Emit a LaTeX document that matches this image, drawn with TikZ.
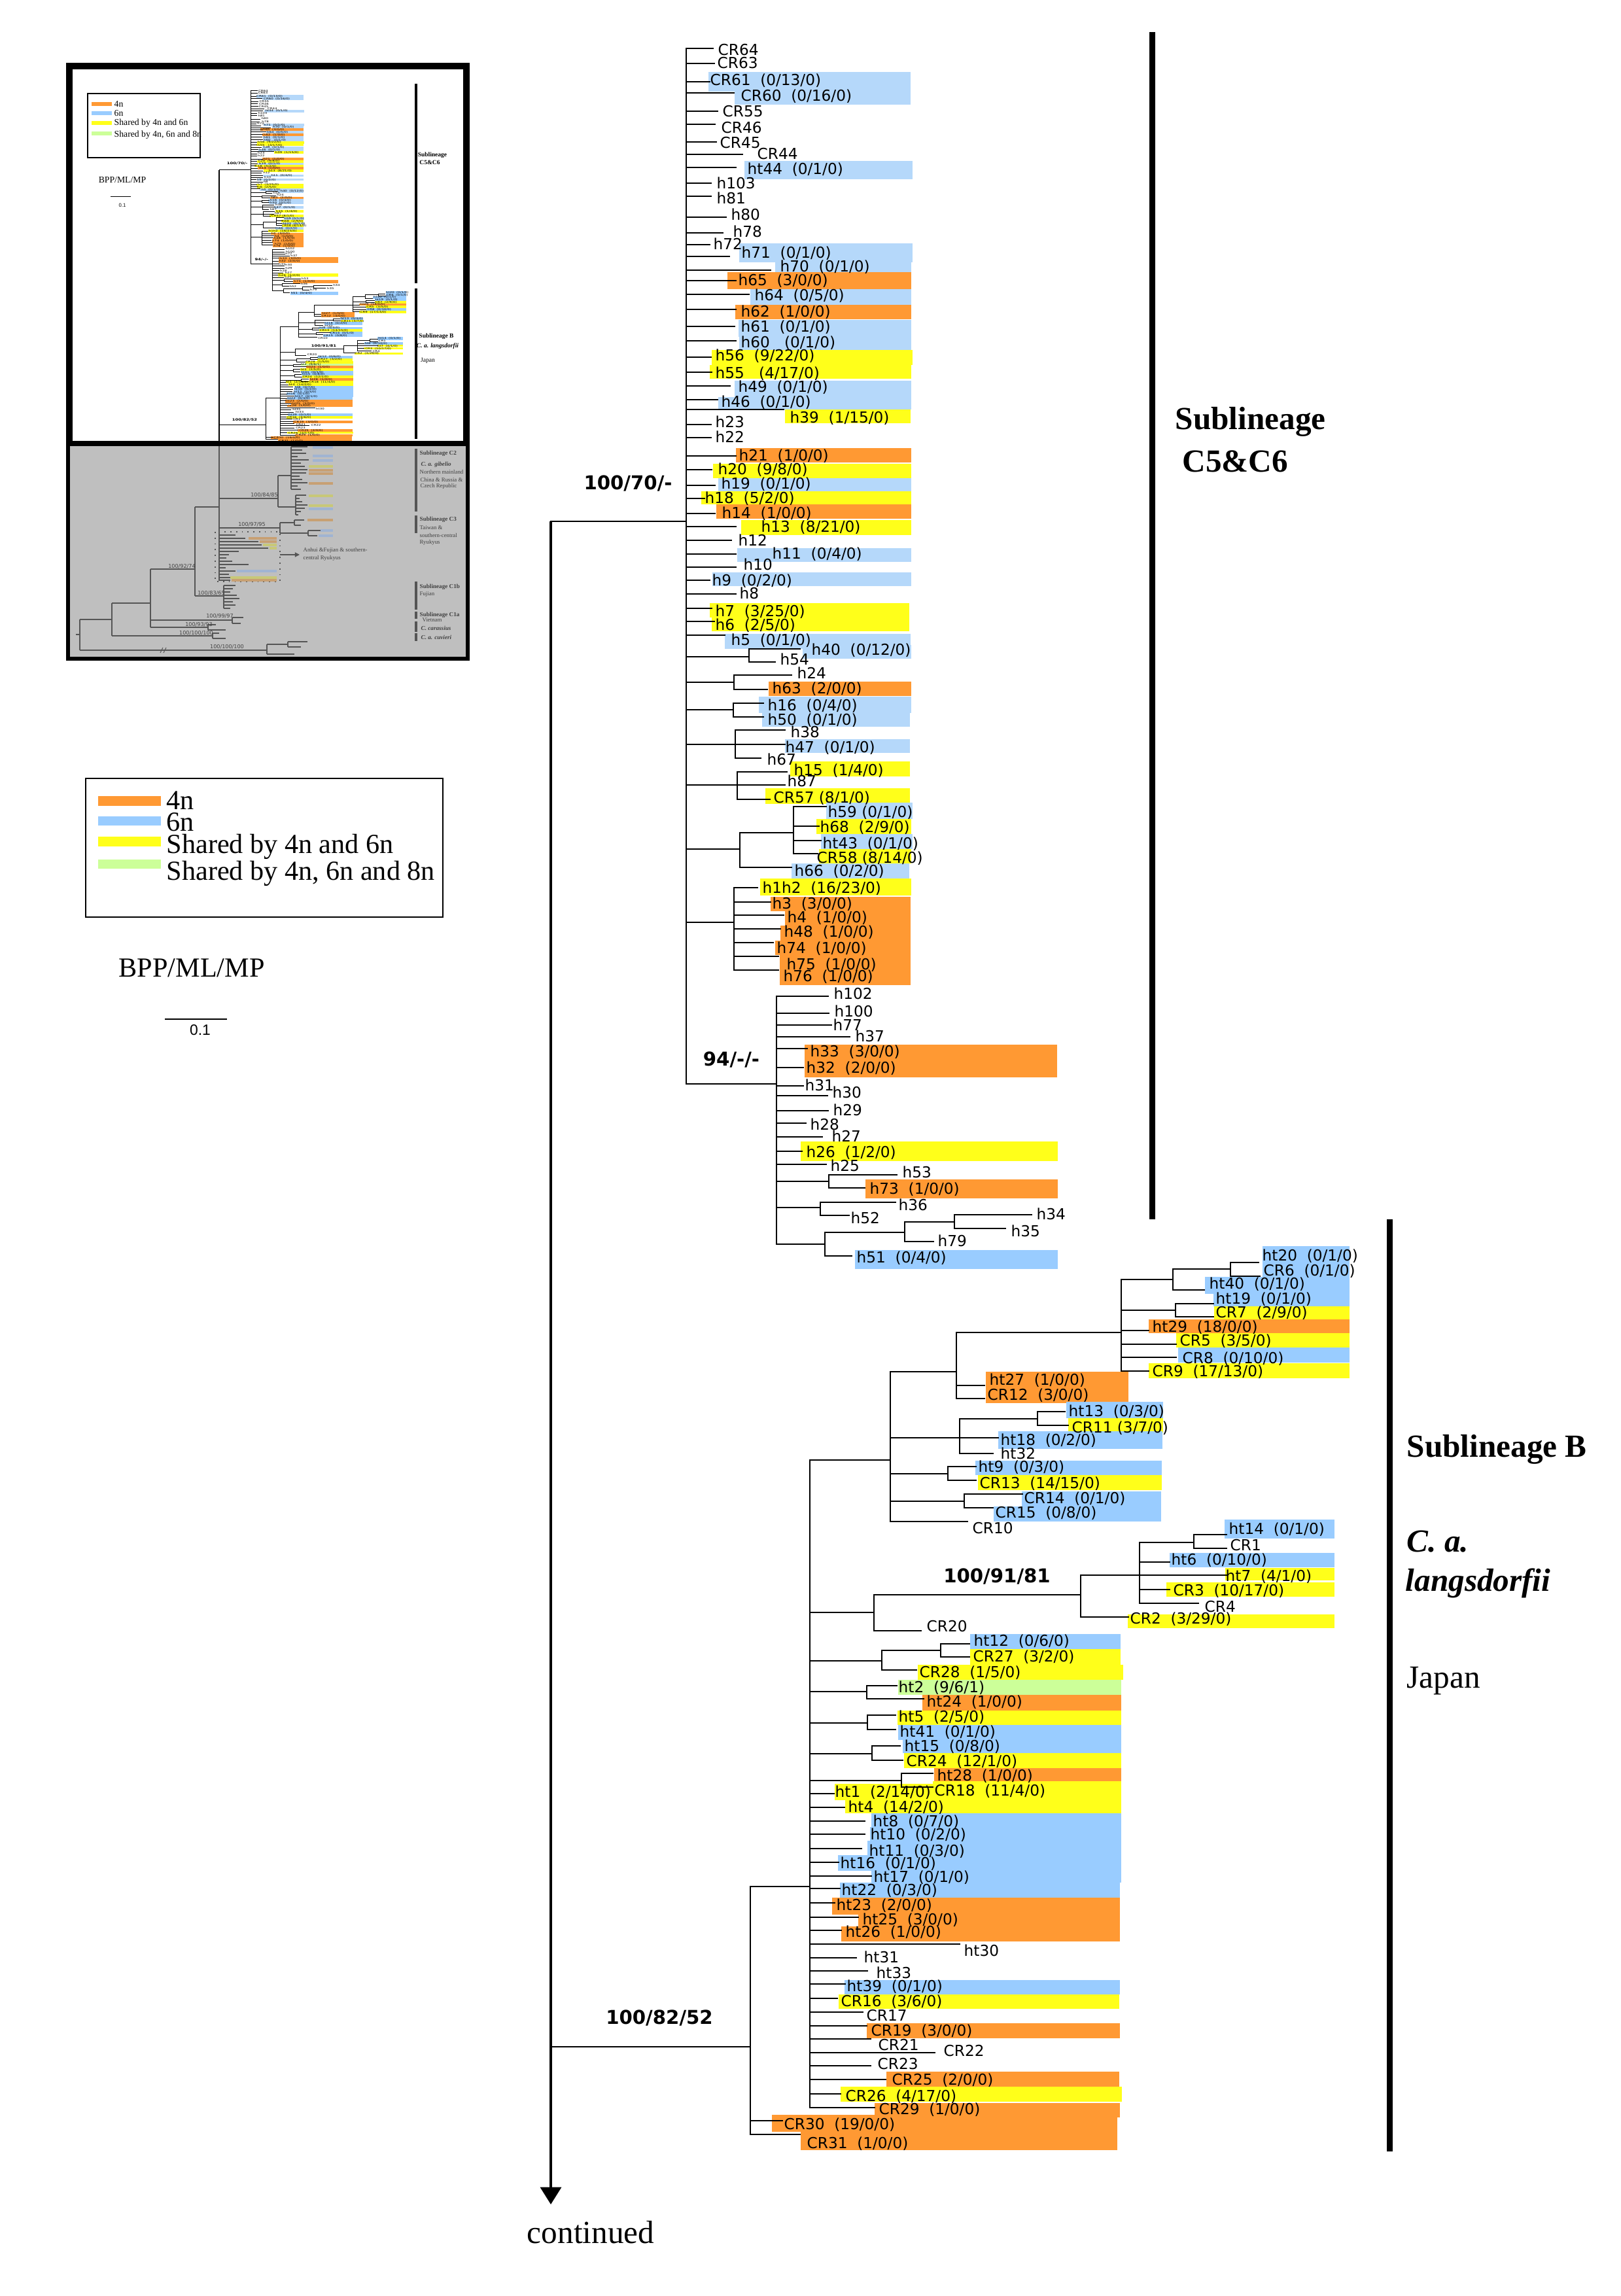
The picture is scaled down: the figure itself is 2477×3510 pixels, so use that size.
\documentclass[tikz,border=0pt]{standalone}
\usepackage{fontspec}
\setmainfont{Liberation Serif}
\newfontfamily\taxf{DejaVu Sans}
\newfontfamily\sansf{Liberation Sans}
\usetikzlibrary{arrows.meta}
\definecolor{orC}{RGB}{255,153,51}
\definecolor{blA}{RGB}{181,216,250}
\definecolor{blB}{RGB}{153,204,255}
\definecolor{yeC}{RGB}{255,255,26}
\definecolor{grC}{RGB}{204,255,153}
\definecolor{insg}{RGB}{191,191,191}
\definecolor{gline}{RGB}{85,85,85}
\definecolor{gtext}{RGB}{65,65,65}
\definecolor{gOr}{RGB}{200,160,115}
\definecolor{gBl}{RGB}{160,180,210}
\definecolor{gYe}{RGB}{200,200,120}
\def\tw{0.6pt}
\tikzset{
 br/.style={line width=\tw,line cap=rect},
 tl/.style={font=\taxf\fontsize{6.6}{7}\selectfont,anchor=west,inner sep=0pt,text height=5.4pt,text depth=1.3pt},
 sv/.style={font=\taxf\bfseries\fontsize{8.3}{9}\selectfont,inner sep=0pt},
 subl/.style={font=\bfseries\fontsize{14}{16}\selectfont,anchor=west,inner sep=0pt},
 legt/.style={font=\fontsize{12}{13}\selectfont,anchor=base west,inner sep=0pt},
 ilab/.style={font=\bfseries\fontsize{2.7}{3}\selectfont,inner sep=0pt},
 glab/.style={font=\fontsize{2.5}{3}\selectfont,anchor=west,inner sep=0pt,text=gtext},
 gsv/.style={font=\taxf\fontsize{2.3}{3}\selectfont,inner sep=0pt,text=gtext},
}
\newcommand\tBX[5]{\fill[#1] (#2,#3) rectangle (#4,#5);}
\newcommand\tHL[3]{\draw[br] (#1,#2) -- (#3,#2);}
\newcommand\tVL[3]{\draw[br] (#1,#2) -- (#1,#3);}
\newcommand\tTX[4]{\node[tl] (\pfx-#1) at (#2,#3) {#4};}
\newcommand\maintree[1]{\def\pfx{#1}%
% ---------- bars C5
\tBX{blA}{1083}{110}{1392}{140}\tBX{blA}{1123}{140}{1392}{160}\tBX{blA}{1138}{246}{1395}{274}
\tBX{blA}{1130}{372}{1395}{401}\tBX{blA}{1185}{401}{1393}{418}\tBX{orC}{1112}{416}{1393}{442}
\tBX{blA}{1147}{442}{1393}{466}\tBX{orC}{1124}{466}{1393}{488}\tBX{blA}{1129}{489}{1393}{515}
\tBX{blA}{1130}{515}{1393}{535}\tBX{yeC}{1088}{535}{1395}{558}\tBX{yeC}{1085}{558}{1393}{579}
\tBX{blA}{1123}{582}{1393}{607}\tBX{blA}{1098}{607}{1393}{626}\tBX{yeC}{1200}{626}{1392}{647}
\tBX{orC}{1125}{685}{1393}{707}\tBX{yeC}{1090}{709}{1393}{731}\tBX{blA}{1098}{731}{1393}{751}
\tBX{yeC}{1072}{751}{1393}{771}\tBX{orC}{1095}{771}{1393}{793}\tBX{yeC}{1133}{795}{1393}{818}
\tBX{blA}{1127}{838}{1393}{859}\tBX{blA}{1089}{875}{1393}{896}\tBX{yeC}{1085}{922}{1390}{944}
\tBX{yeC}{1088}{944}{1390}{965}\tBX{blA}{1108}{969}{1392}{992}\tBX{blA}{1227}{986}{1393}{1007}
\tBX{orC}{1175}{1042}{1393}{1064}\tBX{blA}{1160}{1065}{1393}{1090}\tBX{blA}{1165}{1090}{1391}{1111}
\tBX{blA}{1200}{1130}{1391}{1151}\tBX{yeC}{1208}{1164}{1391}{1187}\tBX{yeC}{1170}{1205}{1391}{1229}
\tBX{blA}{1263}{1227}{1395}{1252}\tBX{yeC}{1248}{1252}{1393}{1275}\tBX{blA}{1255}{1275}{1395}{1298}
\tBX{yeC}{1252}{1298}{1393}{1320}\tBX{blA}{1210}{1320}{1390}{1343}\tBX{yeC}{1162}{1343}{1393}{1369}
\tBX{orC}{1178}{1371}{1392}{1393}\tBX{orC}{1200}{1393}{1392}{1415}\tBX{orC}{1193}{1415}{1392}{1438}
\tBX{orC}{1185}{1438}{1392}{1460}\tBX{orC}{1192}{1460}{1392}{1483}\tBX{orC}{1192}{1483}{1392}{1506}
% ---------- bars 94
\tBX{orC}{1230}{1597}{1616}{1621}\tBX{orC}{1230}{1621}{1616}{1647}\tBX{yeC}{1224}{1745}{1617}{1775}
\tBX{orC}{1323}{1803}{1617}{1832}\tBX{blB}{1307}{1911}{1617}{1940}
% ---------- bars B
\tBX{blB}{1930}{1905}{2063}{1930}\tBX{blB}{1930}{1930}{2063}{1952}\tBX{blB}{1842}{1952}{2063}{1978}
\tBX{blB}{1855}{1978}{2063}{1997}\tBX{yeC}{1856}{1997}{2063}{2017}\tBX{orC}{1756}{2017}{2063}{2038}
\tBX{yeC}{1798}{2038}{2063}{2060}\tBX{blB}{1801}{2060}{2063}{2083}\tBX{yeC}{1756}{2084}{2063}{2107}
\tBX{orC}{1507}{2097}{1725}{2145}\tBX{blB}{1630}{2143}{1778}{2168}\tBX{yeC}{1633}{2168}{1778}{2190}
\tBX{blB}{1526}{2188}{1777}{2215}\tBX{blB}{1491}{2233}{1776}{2255}\tBX{yeC}{1495}{2255}{1776}{2278}
\tBX{blB}{1562}{2280}{1775}{2303}\tBX{blB}{1519}{2303}{1775}{2326}
\tBX{blB}{1872}{2323}{2040}{2352}\tBX{blB}{1788}{2374}{2040}{2396}\tBX{yeC}{1873}{2397}{2040}{2416}
\tBX{yeC}{1783}{2419}{2040}{2441}\tBX{yeC}{1724}{2468}{2040}{2489}
\tBX{blB}{1483}{2498}{1713}{2521}\tBX{yeC}{1483}{2521}{1713}{2545}\tBX{yeC}{1403}{2545}{1717}{2568}
\tBX{grC}{1373}{2568}{1714}{2591}\tBX{orC}{1410}{2591}{1714}{2615}\tBX{yeC}{1372}{2615}{1714}{2637}
\tBX{blB}{1373}{2637}{1714}{2660}\tBX{blB}{1380}{2660}{1714}{2680}\tBX{yeC}{1382}{2680}{1714}{2703}
\tBX{orC}{1428}{2703}{1714}{2723}\tBX{yeC}{1426}{2723}{1714}{2752}\tBX{yeC}{1276}{2727}{1714}{2752}
\tBX{yeC}{1292}{2752}{1714}{2772}\tBX{blB}{1332}{2772}{1714}{2793}\tBX{blB}{1330}{2793}{1714}{2814}
\tBX{blB}{1326}{2814}{1714}{2836}\tBX{blB}{1281}{2836}{1714}{2860}\tBX{blB}{1332}{2860}{1714}{2878}
\tBX{blB}{1284}{2878}{1712}{2901}\tBX{orC}{1272}{2901}{1712}{2927}\tBX{orC}{1312}{2927}{1712}{2945}
\tBX{orC}{1286}{2945}{1712}{2968}\tBX{blB}{1291}{3027}{1712}{3049}\tBX{yeC}{1282}{3049}{1711}{3071}
\tBX{orC}{1325}{3093}{1712}{3116}\tBX{orC}{1355}{3167}{1711}{3190}\tBX{yeC}{1285}{3190}{1715}{3213}
\tBX{orC}{1337}{3215}{1712}{3237}\tBX{orC}{1180}{3233}{1708}{3259}\tBX{orC}{1224}{3259}{1708}{3287}
% ---------- lines
\tHL{842}{797}{1049}\tHL{842}{3129}{1147}
\tVL{1049}{74}{1657}
\foreach \yy/\xx in {74/1090,97/1092,125/1085,142/1122,170/1097,190/1093,217/1095,236/1135,256/1125,280/1087,300/1087,332/1110,356/1105,374/1085,392/1115,413/1178,429/1125,450/1145,473/1125,499/1123,521/1125,546/1087,569/1088,590/1116,611/1097,626/1198,649/1087,669/1087,697/1125,718/1088,742/1093,762/1077,785/1093,805/1125,826/1118,847/1125,867/1125,887/1085,908/1125,930/1088,950/1092,971/1108}{\tHL{1049}{\yy}{\xx}}
\tHL{1049}{1004}{1145}\tVL{1145}{992}{1012}\tHL{1145}{992}{1223}\tHL{1145}{1012}{1185}
\tHL{1049}{1043}{1122}\tVL{1122}{1032}{1054}\tHL{1122}{1032}{1210}\tHL{1122}{1054}{1173}
\tHL{1049}{1085}{1121}\tVL{1121}{1075}{1096}\tHL{1121}{1075}{1167}\tHL{1121}{1096}{1167}
\tHL{1049}{1138}{1200}\tVL{1124}{1116}{1159}\tHL{1124}{1116}{1200}\tHL{1124}{1159}{1163}
\tHL{1049}{1200}{1200}\tVL{1127}{1180}{1222}\tHL{1127}{1180}{1203}\tHL{1127}{1222}{1177}
\tHL{1049}{1298}{1131}\tVL{1131}{1273}{1326}\tHL{1131}{1273}{1213}\tVL{1213}{1233}{1305}
\tHL{1213}{1233}{1263}\tHL{1213}{1263}{1252}\tHL{1213}{1285}{1255}\tHL{1213}{1305}{1250}\tHL{1131}{1326}{1210}
\tHL{1049}{1410}{1122}\tVL{1122}{1357}{1483}
\foreach \yy/\xx in {1357/1158,1379/1178,1399/1198,1420/1193,1441/1182,1462/1190,1483/1190}{\tHL{1122}{\yy}{\xx}}
\tHL{1049}{1657}{1187}\tVL{1187}{1523}{1902}
\foreach \yy/\xx in {1523/1266,1549/1267,1567/1271,1585/1299,1603/1234,1632/1228,1660/1228,1675/1265,1698/1266,1717/1232,1738/1257,1760/1226,1780/1263}{\tHL{1187}{\yy}{\xx}}
\tHL{1187}{1806}{1267}\tVL{1267}{1796}{1816}\tHL{1267}{1796}{1371}\tHL{1267}{1816}{1322}
\tHL{1187}{1846}{1254}\tVL{1254}{1838}{1858}\tHL{1254}{1838}{1369}\tHL{1254}{1858}{1298}
\tHL{1187}{1902}{1261}\tVL{1261}{1884}{1920}\tHL{1261}{1884}{1383}\tVL{1383}{1868}{1898}
\tHL{1383}{1868}{1459}\tVL{1459}{1857}{1878}\tHL{1459}{1857}{1577}\tHL{1459}{1878}{1537}
\tHL{1383}{1898}{1427}\tHL{1261}{1920}{1302}
% B
\tVL{1147}{2884}{3263}\tHL{1147}{2884}{1238}\tHL{1147}{3242}{1196}\tHL{1147}{3263}{1223}
\tVL{1238}{2232}{3222}
\tHL{1238}{2232}{1361}\tVL{1361}{2097}{2326}
\tHL{1361}{2097}{1462}\tVL{1462}{2037}{2138}
\tHL{1462}{2037}{1714}\tVL{1714}{1956}{2096}
\tHL{1714}{1956}{1793}\tVL{1793}{1940}{1972}
\tHL{1793}{1940}{1881}\tVL{1881}{1930}{1951}\tHL{1881}{1930}{1924}\tHL{1881}{1951}{1926}
\tHL{1793}{1972}{1841}
\tHL{1714}{2003}{1797}\tVL{1797}{1993}{2013}\tHL{1797}{1993}{1855}\tHL{1797}{2013}{1855}
\tHL{1714}{2034}{1756}\tHL{1714}{2055}{1798}\tHL{1714}{2075}{1798}\tHL{1714}{2096}{1756}
\tHL{1462}{2118}{1505}\tHL{1462}{2138}{1505}
\tHL{1361}{2198}{1467}\tVL{1467}{2169}{2222}
\tHL{1467}{2169}{1586}\tVL{1586}{2158}{2179}\tHL{1586}{2158}{1628}\tHL{1586}{2179}{1633}
\tHL{1467}{2198}{1526}\tHL{1467}{2222}{1518}
\tHL{1361}{2253}{1449}\tVL{1449}{2242}{2263}\tHL{1449}{2242}{1492}\tHL{1449}{2263}{1492}
\tHL{1361}{2295}{1474}\tVL{1474}{2284}{2305}\tHL{1474}{2284}{1563}\tHL{1474}{2305}{1518}
\tHL{1361}{2326}{1479}
\tHL{1238}{2465}{1336}\tVL{1336}{2438}{2493}
\tHL{1336}{2438}{1652}\tVL{1652}{2408}{2472}
\tHL{1652}{2408}{1742}\tVL{1742}{2358}{2451}
\tHL{1742}{2358}{1825}\tVL{1825}{2346}{2367}\tHL{1825}{2346}{1875}\tHL{1825}{2367}{1875}
\tHL{1742}{2388}{1788}\tHL{1742}{2408}{1875}\tHL{1742}{2430}{1788}\tHL{1742}{2451}{1832}
\tHL{1652}{2472}{1725}\tHL{1336}{2493}{1408}
\tHL{1238}{2539}{1348}\tVL{1348}{2523}{2553}\tHL{1348}{2523}{1438}\tVL{1438}{2513}{2533}
\tHL{1438}{2513}{1482}\tHL{1438}{2533}{1482}\tHL{1348}{2553}{1401}
\tHL{1238}{2586}{1325}\tVL{1325}{2577}{2597}\tHL{1325}{2577}{1371}\tHL{1325}{2597}{1412}
\tHL{1238}{2634}{1326}\tVL{1326}{2622}{2644}\tHL{1326}{2622}{1369}\tHL{1326}{2644}{1369}
\tHL{1238}{2681}{1333}\tVL{1333}{2669}{2691}\tHL{1333}{2669}{1376}\tHL{1333}{2691}{1380}
\tHL{1238}{2722}{1378}\tVL{1378}{2711}{2732}\tHL{1378}{2711}{1426}\tHL{1378}{2732}{1426}
\foreach \yy/\xx in {2742/1275,2763/1291,2784/1322,2804/1322,2826/1317,2847/1282,2868/1332,2887/1284,2909/1276,2931/1312,2951/1286,2972/1467,2993/1309,3013/1326,3033/1292,3055/1280,3076/1319,3097/1325,3117/1331,3138/1429,3158/1331,3179/1354,3201/1285,3222/1337}{\tHL{1238}{\yy}{\xx}}
% ---------- labels C5
\tTX{CR64}{1097}{77}{CR64}\tTX{CR63}{1096}{97}{CR63}\tTX{CR61}{1085}{123}{CR61~~(0/13/0)}
\tTX{CR60}{1132}{147}{CR60~~(0/16/0)}\tTX{CR55}{1104}{171}{CR55}\tTX{CR46}{1102}{196}{CR46}
\tTX{CR45}{1100}{219}{CR45}\tTX{CR44}{1157}{236}{CR44}\tTX{ht44}{1142}{259}{ht44~~(0/1/0)}
\tTX{h103}{1095}{281}{h103}\tTX{h81}{1095}{304}{h81}\tTX{h80}{1117}{329}{h80}
\tTX{h78}{1120}{355}{h78}\tTX{h72}{1090}{374}{h72}\tTX{h71}{1133}{387}{h71~~(0/1/0)}
\tTX{h70}{1192}{408}{h70~~(0/1/0)}\tTX{h65}{1128}{429}{h65~~(3/0/0)}\tTX{h64}{1153}{452}{h64~~(0/5/0)}
\tTX{h62}{1132}{477}{h62~~(1/0/0)}\tTX{h61}{1132}{500}{h61~~(0/1/0)}\tTX{h60}{1132}{524}{h60~~~(0/1/0)}
\tTX{h56}{1093}{544}{h56~~(9/22/0)}\tTX{h55}{1093}{571}{h55~~~(4/17/0)}\tTX{h49}{1128}{592}{h49~~(0/1/0)}
\tTX{h46}{1102}{615}{h46~~(0/1/0)}\tTX{h39}{1207}{639}{h39~~(1/15/0)}\tTX{h23}{1093}{646}{h23}
\tTX{h22}{1093}{669}{h22}\tTX{h21}{1129}{697}{h21~~(1/0/0)}\tTX{h20}{1097}{718}{h20~~(9/8/0)}
\tTX{h19}{1102}{740}{h19~~(0/1/0)}\tTX{h18}{1077}{762}{h18~~(5/2/0)}\tTX{h14}{1103}{785}{h14~~(1/0/0)}
\tTX{h13}{1163}{806}{h13~~(8/21/0)}\tTX{h12}{1128}{827}{h12}\tTX{h11}{1180}{847}{h11~~(0/4/0)}
\tTX{h10}{1136}{864}{h10}\tTX{h9}{1088}{888}{h9~~(0/2/0)}\tTX{h8}{1130}{908}{h8}
\tTX{h7}{1093}{935}{h7~~(3/25/0)}\tTX{h6}{1093}{956}{h6~~(2/5/0)}\tTX{h5}{1117}{979}{h5~~(0/1/0)}
\tTX{h40}{1240}{994}{h40~~(0/12/0)}\tTX{h54}{1192}{1009}{h54}\tTX{h24}{1218}{1030}{h24}
\tTX{h63}{1180}{1053}{h63~~(2/0/0)}\tTX{h16}{1173}{1079}{h16~~(0/4/0)}\tTX{h50}{1173}{1101}{h50~~(0/1/0)}
\tTX{h38}{1208}{1120}{h38}\tTX{h47}{1200}{1143}{h47~~(0/1/0)}\tTX{h67}{1172}{1162}{h67}
\tTX{h15}{1213}{1178}{h15~~(1/4/0)}\tTX{h87}{1203}{1195}{h87}\tTX{CR57}{1182}{1220}{CR57 (8/1/0)}
\tTX{h59}{1265}{1242}{h59 (0/1/0)}\tTX{h68}{1253}{1265}{h68~~(2/9/0)}\tTX{ht43}{1257}{1290}{ht43~~(0/1/0)}
\tTX{CR58}{1248}{1312}{CR58 (8/14/0)}\tTX{h66}{1214}{1332}{h66~~(0/2/0)}\tTX{h1h2}{1165}{1358}{h1h2~~(16/23/0)}
\tTX{h3}{1180}{1382}{h3~~(3/0/0)}\tTX{h4}{1203}{1403}{h4~~(1/0/0)}\tTX{h48}{1198}{1425}{h48~~(1/0/0)}
\tTX{h74}{1187}{1450}{h74~~(1/0/0)}\tTX{h75}{1202}{1475}{h75~~(1/0/0)}\tTX{h76}{1197}{1493}{h76~~(1/0/0)}
% 94
\tTX{h102}{1274}{1520}{h102}\tTX{h100}{1275}{1547}{h100}\tTX{h77}{1273}{1568}{h77}
\tTX{h37}{1307}{1585}{h37}\tTX{h33}{1238}{1608}{h33~~(3/0/0)}\tTX{h32}{1232}{1633}{h32~~(2/0/0)}
\tTX{h31}{1230}{1660}{h31}\tTX{h30}{1272}{1671}{h30}\tTX{h29}{1273}{1698}{h29}
\tTX{h28}{1238}{1720}{h28}\tTX{h27}{1271}{1738}{h27}\tTX{h26}{1232}{1762}{h26~~(1/2/0)}
\tTX{h25}{1269}{1783}{h25}\tTX{h53}{1379}{1793}{h53}\tTX{h73}{1329}{1818}{h73~~(1/0/0)}
\tTX{h36}{1373}{1843}{h36}\tTX{h52}{1300}{1863}{h52}\tTX{h34}{1584}{1857}{h34}
\tTX{h35}{1545}{1883}{h35}\tTX{h79}{1433}{1898}{h79}\tTX{h51}{1309}{1923}{h51~~(0/4/0)}
% B
\tTX{ht20}{1929}{1920}{ht20~~(0/1/0)}\tTX{CR6}{1931}{1943}{CR6~~(0/1/0)}\tTX{ht40}{1848}{1963}{ht40~~(0/1/0)}
\tTX{ht19}{1858}{1986}{ht19~~(0/1/0)}\tTX{CR7}{1858}{2007}{CR7~~(2/9/0)}\tTX{ht29}{1761}{2029}{ht29~~(18/0/0)}
\tTX{CR5}{1803}{2050}{CR5~~(3/5/0)}\tTX{CR8}{1807}{2077}{CR8~~(0/10/0)}\tTX{CR9}{1761}{2097}{CR9~~(17/13/0)}
\tTX{ht27}{1512}{2110}{ht27~~(1/0/0)}\tTX{CR12}{1509}{2133}{CR12~~(3/0/0)}\tTX{ht13}{1633}{2158}{ht13~~(0/3/0)}
\tTX{CR11}{1638}{2183}{CR11 (3/7/0)}\tTX{ht18}{1529}{2202}{ht18~~(0/2/0)}\tTX{ht32}{1529}{2223}{ht32}
\tTX{ht9}{1495}{2243}{ht9~~(0/3/0)}\tTX{CR13}{1497}{2268}{CR13~~(14/15/0)}\tTX{CR14}{1565}{2291}{CR14~~(0/1/0)}
\tTX{CR15}{1521}{2313}{CR15~~(0/8/0)}\tTX{CR10}{1486}{2337}{CR10}\tTX{ht14}{1878}{2338}{ht14~~(0/1/0)}
\tTX{CR1}{1880}{2363}{CR1}\tTX{ht6}{1790}{2385}{ht6~~(0/10/0)}\tTX{ht7}{1873}{2410}{ht7~~(4/1/0)}
\tTX{CR3}{1793}{2432}{CR3~~(10/17/0)}\tTX{CR4}{1841}{2457}{CR4}\tTX{CR2}{1727}{2475}{CR2~~(3/29/0)}
\tTX{CR20}{1416}{2487}{CR20}\tTX{ht12}{1488}{2509}{ht12~~(0/6/0)}\tTX{CR27}{1487}{2533}{CR27~~(3/2/0)}
\tTX{CR28}{1405}{2557}{CR28~~(1/5/0)}\tTX{ht2}{1373}{2580}{ht2~~(9/6/1)}\tTX{ht24}{1416}{2602}{ht24~~(1/0/0)}
\tTX{ht5}{1373}{2625}{ht5~~(2/5/0)}\tTX{ht41}{1375}{2648}{ht41~~(0/1/0)}\tTX{ht15}{1382}{2670}{ht15~~(0/8/0)}
\tTX{CR24}{1385}{2693}{CR24~~(12/1/0)}\tTX{ht28}{1432}{2715}{ht28~~(1/0/0)}\tTX{CR18}{1428}{2738}{CR18~~(11/4/0)}
\tTX{ht1}{1276}{2740}{ht1~~(2/14/0)}\tTX{ht4}{1296}{2763}{ht4~~(14/2/0)}\tTX{ht8}{1334}{2785}{ht8~~(0/7/0)}
\tTX{ht10}{1330}{2805}{ht10~~(0/2/0)}\tTX{ht11}{1328}{2830}{ht11~~(0/3/0)}\tTX{ht16}{1284}{2849}{ht16~~(0/1/0)}
\tTX{ht17}{1335}{2870}{ht17~~(0/1/0)}\tTX{ht22}{1286}{2890}{ht22~~(0/3/0)}\tTX{ht23}{1278}{2913}{ht23~~(2/0/0)}
\tTX{ht25}{1318}{2935}{ht25~~(3/0/0)}\tTX{ht26}{1292}{2954}{ht26~~(1/0/0)}\tTX{ht30}{1473}{2983}{ht30}
\tTX{ht31}{1320}{2993}{ht31}\tTX{ht33}{1339}{3017}{ht33}\tTX{ht39}{1294}{3037}{ht39~~(0/1/0)}
\tTX{CR16}{1285}{3060}{CR16~~(3/6/0)}\tTX{CR17}{1324}{3082}{CR17}\tTX{CR19}{1331}{3105}{CR19~~(3/0/0)}
\tTX{CR21}{1342}{3127}{CR21}\tTX{CR22}{1442}{3136}{CR22}\tTX{CR23}{1341}{3156}{CR23}
\tTX{CR25}{1363}{3180}{CR25~~(2/0/0)}\tTX{CR26}{1292}{3205}{CR26~~(4/17/0)}\tTX{CR29}{1343}{3225}{CR29~~(1/0/0)}
\tTX{CR30}{1198}{3248}{CR30~~(19/0/0)}\tTX{CR31}{1233}{3277}{CR31~~(1/0/0)}
% support values
\node[sv] (\pfx-s70) at (960,739) {100/70/-};
\node[sv] (\pfx-s94) at (1118,1620) {94/-/-};
\node[sv] (\pfx-s91) at (1524,2410) {100/91/81};
\node[sv] (\pfx-s82) at (1008,3085) {100/82/52};
}
\begin{document}
\begin{tikzpicture}[x=0.01cm,y=-0.01cm]
\fill[white] (0,0) rectangle (2477,3510);
\useasboundingbox (0,0) rectangle (2477,3510);
% ================= main tree
\maintree{m}
\coordinate (rootTop) at (842,797);
\coordinate (rootEnd) at (842,3370);
\draw[line width=1.3pt,-{Triangle[width=9pt,length=7.5pt]}] (rootTop) -- (rootEnd);
\node[font=\fontsize{14}{16}\selectfont,inner sep=0pt] (cont) at (903,3413) {continued};
% sublineage bars and labels
\fill (1757,49) rectangle (1766,1864);
\fill (2120,1864) rectangle (2129,3289);
\node[subl] (subA1) at (1796,645) {Sublineage};
\node[subl] (subA2) at (1807,705) {C5\&C6};
\node[subl] (subB1) at (2150,2216) {Sublineage B};
\node[subl,font=\bfseries\itshape\fontsize{14}{16}\selectfont] (subB2) at (2150,2357) {C. a.};
\node[subl,font=\bfseries\itshape\fontsize{14}{16}\selectfont] (subB3) at (2148,2420) {langsdorfii};
\node[subl,font=\fontsize{14}{16}\selectfont] (subB4) at (2150,2570) {Japan};
% legend
\draw[line width=0.6pt] (131,1190) rectangle (677,1402);
\fill[orC] (150,1217) rectangle (246,1232);
\fill[blB] (150,1248) rectangle (246,1262);
\fill[yeC] (150,1279) rectangle (246,1294);
\fill[grC] (150,1314) rectangle (246,1328);
\node[legt] (lg1) at (254,1237) {4n};
\node[legt] (lg2) at (254,1270) {6n};
\node[legt] (lg3) at (254,1304) {Shared by 4n and 6n};
\node[legt] (lg4) at (254,1345) {Shared by 4n, 6n and 8n};
\node[legt] (bpp) at (181,1493) {BPP/ML/MP};
\draw[line width=0.4pt] (252,1558) -- (347,1558);
\node[font=\sansf\fontsize{6.5}{7}\selectfont,inner sep=0pt] (sc) at (306,1575) {0.1};
% ================= inset
\fill[insg] (106,678) rectangle (713,1005);
\begin{scope}
\def\tw{0.22pt}
\begin{scope}[shift={(137.5,126.5)},xscale=0.2346,yscale=0.1671,transform shape]
\maintree{i}
\end{scope}
\end{scope}
\draw[line width=0.3pt] (335,260) -- (335,678);
% inset legend etc.
\draw[line width=0.3pt] (134,143) rectangle (306,241);
\fill[orC] (140,156) rectangle (171,162);
\fill[blB] (140,170) rectangle (171,176);
\fill[yeC] (140,185) rectangle (171,191);
\fill[grC] (140,201) rectangle (171,207);
\node[font=\fontsize{3.9}{4}\selectfont,anchor=west,inner sep=0pt] (il1) at (174,159) {4n};
\node[font=\fontsize{3.9}{4}\selectfont,anchor=west,inner sep=0pt] (il2) at (174,173) {6n};
\node[font=\fontsize{3.9}{4}\selectfont,anchor=west,inner sep=0pt] (il3) at (174,188) {Shared by 4n and 6n};
\node[font=\fontsize{3.9}{4}\selectfont,anchor=west,inner sep=0pt] (il4) at (174,206) {Shared by 4n, 6n and 8n};
\node[font=\fontsize{3.9}{4}\selectfont,inner sep=0pt] (ibpp) at (187,275) {BPP/ML/MP};
\draw[line width=0.2pt] (169,300) -- (200,300);
\node[font=\sansf\fontsize{2.2}{3}\selectfont,inner sep=0pt] (isc) at (187,314) {0.1};
\fill (634,128) rectangle (638,433);
\fill (634,441) rectangle (638,671);
\node[ilab] (is1) at (661,237) {Sublineage};
\node[ilab] (is2) at (657,248) {C5\&C6};
\node[ilab] (is3) at (667,514) {Sublineage B};
\node[ilab,font=\bfseries\itshape\fontsize{2.7}{3}\selectfont] (is4) at (669,529) {C. a. langsdorfii};
\node[ilab,font=\fontsize{2.7}{3}\selectfont] (is5) at (654,551) {Japan};
% inset gray part
\begin{scope}[draw=gline,line width=0.3pt]
\draw (335,678) -- (335,888);
\draw (298,775) -- (335,775) (298,775) -- (298,911) (230,870) -- (298,870);
% C2
\draw (335,762) -- (425,762) (425,727) -- (425,775) (425,727) -- (445,727) (445,683) -- (445,748);
\foreach \yy/\xx in {683/470,688/462,693/468,698/455,703/472,708/460,713/466,718/470,723/468,728/458,733/462,738/470,743/455,748/460}{\draw (445,\yy) -- (\xx,\yy);}
\draw (425,775) -- (452,775) (452,757) -- (452,787);
\foreach \yy/\xx in {757/468,762/458,767/462,772/470,777/466,782/460,787/456}{\draw (452,\yy) -- (\xx,\yy);}
% C3
\draw (335,807) -- (428,807) (428,799) -- (428,815) (428,799) -- (450,799) (450,795) -- (450,803);
\draw (450,795) -- (465,795) (450,803) -- (460,803) (428,815) -- (471,815) (471,811) -- (471,819) (471,811) -- (490,811) (471,819) -- (485,819);
% Anhui
\foreach \yy/\xx in {818/360,823/375,828/395,833/400,838/410,843/365,848/350,853/346,858/355,863/380,868/345,873/360,878/350,883/370,887/352}{\draw (335,\yy) -- (\xx,\yy);}
% C1b and deeper
\draw (298,911) -- (342,911) (342,895) -- (342,930);
\foreach \yy/\xx in {895/360,900/356,905/352,910/362,915/366,920/356,925/360,930/352}{\draw (342,\yy) -- (\xx,\yy);}
\draw (230,870) -- (230,959) (230,948) -- (355,948) (355,944) -- (355,953) (355,944) -- (372,944) (355,953) -- (368,953);
\draw (230,959) -- (318,959) (318,955) -- (318,963) (318,955) -- (330,955) (318,963) -- (345,963);
\draw (171,922) -- (230,922) (171,922) -- (171,972) (171,972) -- (325,972) (325,968) -- (325,976) (325,968) -- (335,968) (325,976) -- (345,976);
\draw (122,947) -- (171,947) (122,947) -- (122,994) (116,970) -- (122,970) (122,994) -- (408,994);
\draw (245,998) -- (249,990) (250,998) -- (254,990);
\draw (408,985) -- (408,1000) (408,985) -- (440,985) (440,981) -- (440,989) (440,981) -- (470,981) (440,989) -- (460,989) (408,1000) -- (450,1000);
\draw[dotted,line width=0.5pt] (329,813) rectangle (428,889);
\draw[-{Triangle[width=2pt,length=2pt]}] (428,848) -- (458,848);
\end{scope}
\fill[gBl] (478,682) rectangle (509,686);\fill[gBl] (478,695) rectangle (509,699);\fill[gBl] (478,702) rectangle (509,706);
\fill[gYe] (472,711) rectangle (509,715);\fill[gOr] (472,717) rectangle (509,721);\fill[gOr] (472,722) rectangle (509,726);
\fill[gOr] (472,737) rectangle (509,741);\fill[gYe] (472,756) rectangle (509,760);\fill[gYe] (472,771) rectangle (509,775);
\fill[gBl] (472,776) rectangle (509,780);\fill[gOr] (470,793) rectangle (509,797);\fill[gBl] (490,809) rectangle (509,813);
\fill[gBl] (487,817) rectangle (509,821);
\fill[gOr] (380,821) rectangle (423,825);\fill[gOr] (397,826) rectangle (423,830);\fill[gYe] (402,831) rectangle (423,835);
\fill[gYe] (412,836) rectangle (423,840);\fill[gBl] (362,871) rectangle (423,875);\fill[gYe] (352,881) rectangle (423,885);
\fill[gOr] (354,885) rectangle (423,889);
\node[gsv] (g1) at (404,757) {100/84/85};
\node[gsv] (g2) at (385,802) {100/97/95};
\node[gsv] (g3) at (278,866) {100/92/74};
\node[gsv] (g4) at (323,907) {100/83/65};
\node[gsv] (g5) at (336,942) {100/99/97};
\node[gsv] (g6) at (304,955) {100/93/93};
\node[gsv] (g7) at (300,968) {100/100/100};
\node[gsv] (g8) at (347,989) {100/100/100};
\node[glab] (g9) at (463,841) {Anhui \&Fujian \& southern-};
\node[glab] (g10) at (463,853) {central Ryukyus};
\fill[gline] (634,686) rectangle (638,782);
\fill[gline] (634,788) rectangle (638,815);
\fill[gline] (634,889) rectangle (638,932);
\fill[gline] (634,935) rectangle (638,946);
\fill[gline] (634,950) rectangle (638,966);
\fill[gline] (634,968) rectangle (638,980);
\node[glab,font=\bfseries\fontsize{2.6}{3}\selectfont] (r1) at (641,693) {Sublineage C2};
\node[glab,font=\bfseries\itshape\fontsize{2.6}{3}\selectfont] (r2) at (643,710) {C. a. gibelio};
\node[glab] (r3) at (641,721) {Northern mainland};
\node[glab] (r4) at (642,733) {China \& Russia \&};
\node[glab] (r5) at (642,743) {Czech Republic};
\node[glab,font=\bfseries\fontsize{2.6}{3}\selectfont] (r6) at (641,794) {Sublineage C3};
\node[glab] (r7) at (641,807) {Taiwan \&};
\node[glab] (r8) at (641,818) {southern-central};
\node[glab] (r9) at (641,829) {Ryukyus};
\node[glab,font=\bfseries\fontsize{2.6}{3}\selectfont] (r10) at (641,897) {Sublineage C1b};
\node[glab] (r11) at (641,909) {Fujian};
\node[glab,font=\bfseries\fontsize{2.6}{3}\selectfont] (r12) at (641,940) {Sublineage C1a};
\node[glab] (r13) at (645,948) {Vietnam};
\node[glab,font=\bfseries\itshape\fontsize{2.6}{3}\selectfont] (r14) at (643,960) {C. carassius};
\node[glab,font=\bfseries\itshape\fontsize{2.6}{3}\selectfont] (r15) at (643,974) {C. a. cuvieri};
% frames
\draw[line width=1.5pt] (104,99) rectangle (715,1007);
\draw[line width=2.4pt] (107,102) rectangle (712,678);
\end{tikzpicture}
\end{document}
